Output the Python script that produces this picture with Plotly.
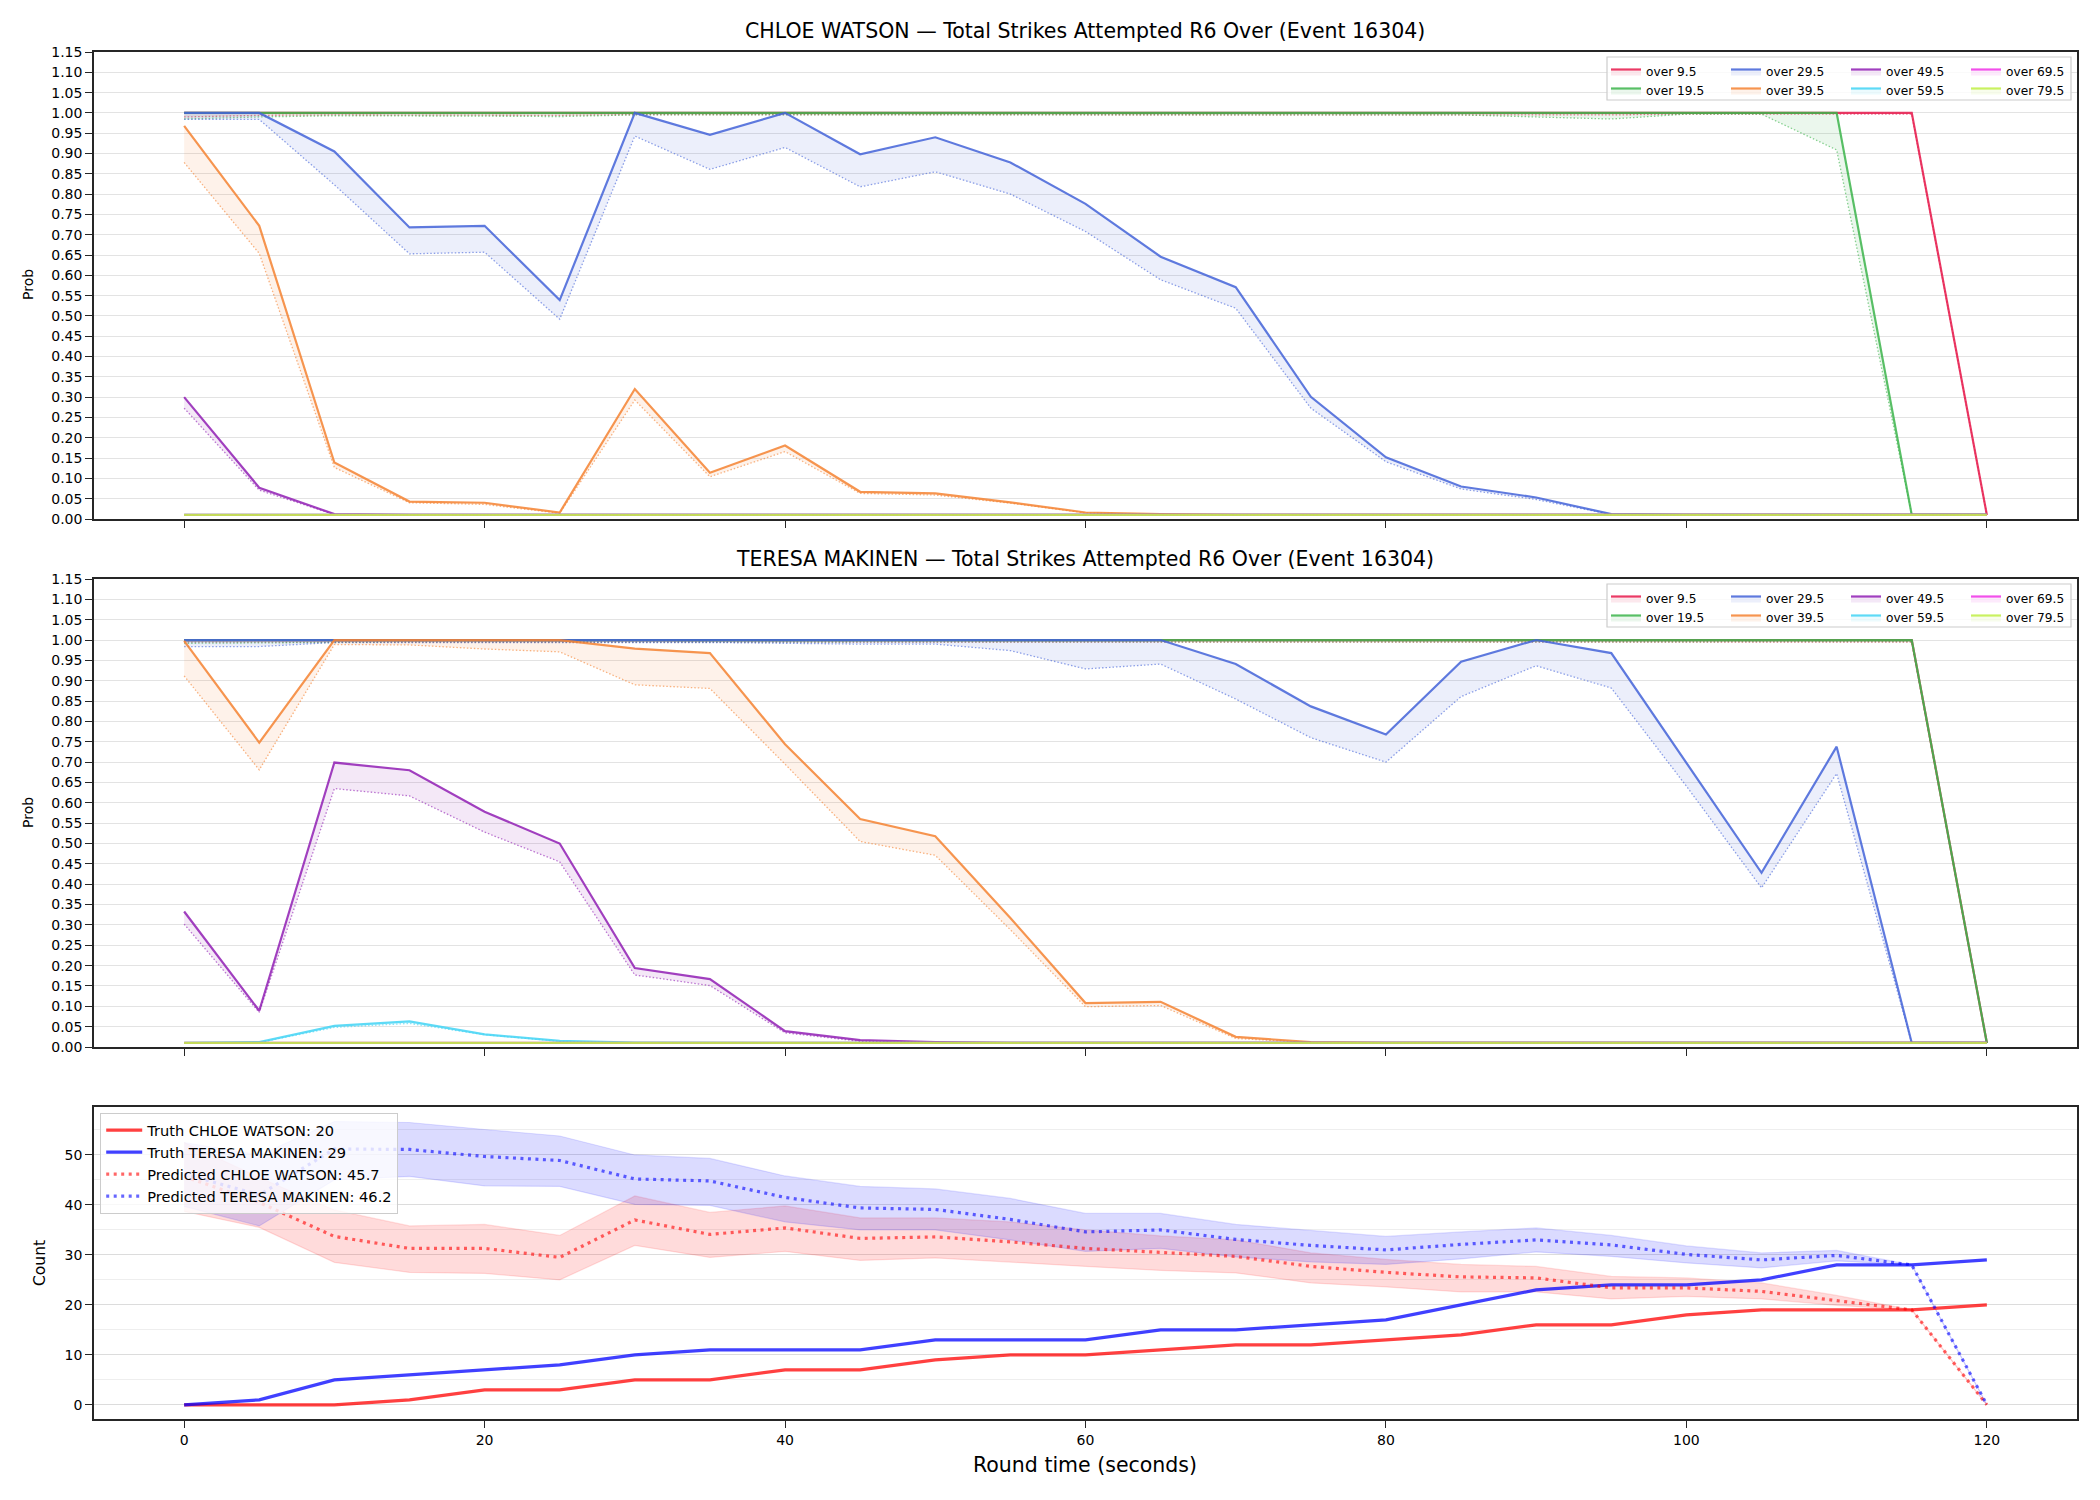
import plotly.graph_objects as go

# ---------------- data ----------------
T = [0, 5, 10, 15, 20, 25, 30, 35, 40, 45, 50, 55, 60, 65, 70, 75, 80, 85, 90, 95, 100, 105, 110, 115, 120]

LINE_NAMES = ["over 9.5", "over 19.5", "over 29.5", "over 39.5",
              "over 49.5", "over 59.5", "over 69.5", "over 79.5"]
LINE_COLORS = ["#e6194b", "#3cb44b", "#4363d8", "#f58231",
               "#911eb4", "#42d4f4", "#f032e6", "#bfef45"]

F = 0.01
# CHLOE WATSON (market line = solid, model = dotted)
cw_o9 = [1.0] * 24 + [F]
cw_o9_pred = [0.99, 0.994, 0.995, 0.995, 0.995, 0.994, 0.996, 0.996, 0.996, 0.996, 0.996, 0.996, 0.996,
              0.996, 0.996, 0.996, 0.996, 0.996, 0.996, 0.995, 0.997, 0.997, 0.997, 0.997, F]
cw_o19 = [1.0] * 23 + [F, F]
cw_o19_pred = [0.985, 0.99, 0.993, 0.993, 0.992, 0.991, 0.995, 0.995, 0.995, 0.995, 0.995, 0.995, 0.995,
               0.995, 0.995, 0.995, 0.994, 0.995, 0.99, 0.985, 0.997, 0.997, 0.909, 0.011, F]
cw_o29 = [1.0, 1.0, 0.905, 0.718, 0.722, 0.539, 1.0, 0.946, 1.0, 0.898, 0.940, 0.878, 0.776,
          0.646, 0.571, 0.301, 0.152, 0.080, 0.053, 0.012, F, F, F, F, F]
cw_o29_pred = [0.984, 0.984, 0.823, 0.653, 0.657, 0.492, 0.943, 0.861, 0.915, 0.818, 0.855, 0.80, 0.708,
               0.589, 0.519, 0.273, 0.141, 0.074, 0.048, 0.011, F, F, F, F, F]
cw_o39 = [0.968, 0.722, 0.139, 0.043, 0.040, 0.016, 0.320, 0.114, 0.181, 0.067, 0.063, 0.041, 0.016,
          0.012, F, F, F, F, F, F, F, F, F, F, F]
cw_o39_pred = [0.878, 0.654, 0.127, 0.040, 0.036, 0.014, 0.293, 0.104, 0.166, 0.063, 0.059, 0.039, 0.015,
               0.011, F, F, F, F, F, F, F, F, F, F, F]
cw_o49 = [0.30, 0.077, 0.012] + [F] * 22
cw_o49_pred = [0.273, 0.071, 0.011] + [F] * 22
cw_o59 = [F] * 25
cw_o59_pred = [F] * 25
cw_o69 = [F] * 25
cw_o69_pred = [F] * 25
cw_o79 = [F] * 25
cw_o79_pred = [F] * 25

# TERESA MAKINEN
tm_o9 = [1.0] * 24 + [F]
tm_o9_pred = [0.995] * 24 + [F]
tm_o19 = [1.0] * 24 + [F]
tm_o19_pred = [0.992, 0.993, 0.995, 0.995, 0.995, 0.995, 0.996, 0.996, 0.996, 0.996, 0.996, 0.996, 0.996,
               0.996, 0.996, 0.996, 0.996, 0.996, 0.996, 0.996, 0.996, 0.996, 0.996, 0.996, F]
tm_o29 = [1.0] * 14 + [0.941, 0.837, 0.768, 0.947, 1.0, 0.968, 0.698, 0.428, 0.738, F, F]
tm_o29_pred = [0.984, 0.984, 0.994, 0.994, 0.994, 0.994, 0.994, 0.994, 0.992, 0.99, 0.99, 0.974, 0.929,
               0.941, 0.855, 0.760, 0.700, 0.861, 0.937, 0.882, 0.641, 0.391, 0.672, F, F]
tm_o39 = [0.998, 0.748, 1.0, 1.0, 1.0, 1.0, 0.979, 0.968, 0.744, 0.56, 0.518, 0.317, 0.108,
          0.111, 0.025, 0.012] + [F] * 9
tm_o39_pred = [0.912, 0.681, 0.989, 0.988, 0.978, 0.971, 0.890, 0.881, 0.695, 0.505, 0.471, 0.288, 0.099,
               0.102, 0.021, 0.011] + [F] * 9
tm_o49 = [0.333, 0.089, 0.699, 0.680, 0.578, 0.500, 0.194, 0.167, 0.039, 0.017, 0.012] + [F] * 14
tm_o49_pred = [0.302, 0.085, 0.635, 0.617, 0.528, 0.455, 0.177, 0.151, 0.035, 0.014, 0.011] + [F] * 14
tm_o59 = [F, 0.012, 0.052, 0.063, 0.031, 0.015, 0.011] + [F] * 18
tm_o59_pred = [F, 0.011, 0.048, 0.058, 0.030, 0.014, F] + [F] * 18
tm_o69 = [F] * 25
tm_o69_pred = [F] * 25
tm_o79 = [F] * 25
tm_o79_pred = [F] * 25

# Counts panel
truth_cw = [0, 0, 0, 1, 3, 3, 5, 5, 7, 7, 9, 10, 10, 11, 12, 12, 13, 14, 16, 16, 18, 19, 19, 19, 20]
truth_tm = [0, 1, 5, 6, 7, 8, 10, 11, 11, 11, 13, 13, 13, 15, 15, 16, 17, 20, 23, 24, 24, 25, 28, 28, 29]
pred_cw = [45.7, 40.5, 33.7, 31.3, 31.3, 29.5, 37.0, 34.1, 35.4, 33.3, 33.6, 32.6, 31.3,
           30.5, 29.7, 27.7, 26.5, 25.6, 25.4, 23.4, 23.4, 22.7, 20.9, 19.0, 0.0]
cw_hi = [52.5, 45.5, 39.0, 35.8, 36.1, 33.9, 41.8, 38.5, 39.8, 37.4, 37.4, 36.6, 35.0,
         33.8, 33.0, 30.4, 29.1, 28.1, 27.7, 25.7, 25.4, 24.4, 21.9, 19.0, 0.0]
cw_lo = [38.7, 35.5, 28.5, 26.5, 26.3, 25.0, 31.9, 29.5, 30.7, 28.9, 29.4, 28.5, 27.7,
         26.9, 26.4, 24.4, 23.6, 22.6, 22.6, 21.2, 21.7, 21.2, 19.9, 19.0, 0.0]
pred_tm = [46.2, 42.0, 51.2, 51.1, 49.7, 48.9, 45.2, 44.8, 41.5, 39.4, 39.1, 37.1, 34.6,
           35.0, 33.1, 31.9, 31.0, 32.1, 33.0, 32.0, 30.1, 29.0, 29.9, 28.0, 0.0]
tm_hi = [52.5, 50.0, 56.7, 56.5, 55.1, 53.8, 50.0, 49.3, 45.8, 43.7, 43.2, 41.3, 38.3,
         38.3, 36.1, 34.9, 33.7, 34.6, 35.4, 33.9, 31.8, 30.4, 30.9, 28.0, 0.0]
tm_lo = [39.7, 35.8, 45.0, 45.7, 43.8, 43.7, 40.1, 39.9, 36.6, 35.0, 35.0, 33.0, 30.7,
         31.3, 29.6, 28.6, 28.1, 29.2, 30.6, 29.7, 28.4, 27.4, 28.8, 28.0, 0.0]

PLAYER_A = "CHLOE WATSON"
PLAYER_B = "TERESA MAKINEN"
EVENT = "16304"
X_TICKS = [0, 20, 40, 60, 80, 100, 120]
PROB_TICKS = [round(i * 0.05, 2) for i in range(24)]

# ---------------- figure ----------------
W, H = 2100, 1500
FONT = "DejaVu Sans"
AX = "#262626"

def rgba(hexc, a):
    h = hexc.lstrip("#")
    r, g, b = int(h[0:2], 16), int(h[2:4], 16), int(h[4:6], 16)
    return f"rgba({r},{g},{b},{a})"

fig = go.Figure()

panel_sets = [
    ("x", "y", [cw_o9, cw_o19, cw_o29, cw_o39, cw_o49, cw_o59, cw_o69, cw_o79],
     [cw_o9_pred, cw_o19_pred, cw_o29_pred, cw_o39_pred, cw_o49_pred, cw_o59_pred, cw_o69_pred, cw_o79_pred], 0),
    ("x2", "y2", [tm_o9, tm_o19, tm_o29, tm_o39, tm_o49, tm_o59, tm_o69, tm_o79],
     [tm_o9_pred, tm_o19_pred, tm_o29_pred, tm_o39_pred, tm_o49_pred, tm_o59_pred, tm_o69_pred, tm_o79_pred], 4),
]

for xa, ya, solids, preds, lbase in panel_sets:
    for i, name in enumerate(LINE_NAMES):
        col = LINE_COLORS[i]
        leg = "legend" if (lbase + i // 2) == 0 else f"legend{lbase + i // 2 + 1}"
        fig.add_trace(go.Scatter(x=T, y=preds[i], mode="lines", xaxis=xa, yaxis=ya,
                                 line=dict(color=rgba(col, 0.6), width=1.3, dash="1.5px,2px"),
                                 showlegend=False, hoverinfo="skip"))
        fig.add_trace(go.Scatter(x=T, y=solids[i], mode="lines", xaxis=xa, yaxis=ya, name=name,
                                 line=dict(color=rgba(col, 0.85), width=2.2),
                                 fill="tonexty", fillcolor=rgba(col, 0.1),
                                 legend=leg, showlegend=True))

# bottom panel bands
for lo, hi, col in [(cw_lo, cw_hi, "#ff0000"), (tm_lo, tm_hi, "#0000ff")]:
    fig.add_trace(go.Scatter(x=T, y=lo, mode="lines", xaxis="x3", yaxis="y3",
                             line=dict(color=rgba(col, 0.12), width=1.2), showlegend=False, hoverinfo="skip"))
    fig.add_trace(go.Scatter(x=T, y=hi, mode="lines", xaxis="x3", yaxis="y3",
                             line=dict(color=rgba(col, 0.12), width=1.2), fill="tonexty",
                             fillcolor=rgba(col, 0.14), showlegend=False, hoverinfo="skip"))

fig.add_trace(go.Scatter(x=T, y=truth_cw, mode="lines", xaxis="x3", yaxis="y3",
                         name=f"Truth {PLAYER_A}: {truth_cw[-1]}",
                         line=dict(color="rgba(255,0,0,0.75)", width=3.2), legend="legend9"))
fig.add_trace(go.Scatter(x=T, y=truth_tm, mode="lines", xaxis="x3", yaxis="y3",
                         name=f"Truth {PLAYER_B}: {truth_tm[-1]}",
                         line=dict(color="rgba(0,0,255,0.75)", width=3.2), legend="legend9"))
fig.add_trace(go.Scatter(x=T, y=pred_cw, mode="lines", xaxis="x3", yaxis="y3",
                         name=f"Predicted {PLAYER_A}: {pred_cw[0]}",
                         line=dict(color="rgba(255,0,0,0.6)", width=3.2, dash="3px,4.5px"), legend="legend9"))
fig.add_trace(go.Scatter(x=T, y=pred_tm, mode="lines", xaxis="x3", yaxis="y3",
                         name=f"Predicted {PLAYER_B}: {pred_tm[0]}",
                         line=dict(color="rgba(0,0,255,0.6)", width=3.2, dash="3px,4.5px"), legend="legend9"))

# ---------------- layout ----------------
XD = [94 / W, 2077 / W]
def ydom(top, bot):
    return [1 - bot / H, 1 - top / H]

P1, P2, P3 = (52, 519), (579, 1047), (1107, 1419)

common_x = dict(range=[-6, 126], showgrid=False, zeroline=False, showline=True, mirror=True,
                linecolor=AX, linewidth=1.6, ticks="outside", ticklen=7, tickwidth=1.4, tickcolor=AX,
                tickmode="array", tickvals=X_TICKS, tickfont=dict(family=FONT, size=14, color="#000"),
                automargin=False, domain=XD)
prob_y = dict(range=[0, 1.1500001], tickmode="array", tickvals=PROB_TICKS,
              ticktext=[f"{v:.2f}" for v in PROB_TICKS], showgrid=True, gridcolor="#e3e3e3", gridwidth=1,
              zeroline=False, showline=True, mirror=True, linecolor=AX, linewidth=1.6,
              ticks="outside", ticklen=7, tickwidth=1.4, tickcolor=AX,
              tickfont=dict(family=FONT, size=14, color="#000"), automargin=False)

fig.update_layout(
    width=W, height=H, margin=dict(l=0, r=0, t=0, b=0),
    paper_bgcolor="white", plot_bgcolor="white",
    font=dict(family=FONT, color="#000"),
    xaxis=dict(common_x, anchor="y", showticklabels=False, matches="x3"),
    xaxis2=dict(common_x, anchor="y2", showticklabels=False, matches="x3"),
    xaxis3=dict(common_x, anchor="y3", showticklabels=True),
    yaxis=dict(prob_y, domain=ydom(*P1), anchor="x"),
    yaxis2=dict(prob_y, domain=ydom(*P2), anchor="x2"),
    yaxis3=dict(range=[-2.84, 59.6], tickmode="array", tickvals=[0, 10, 20, 30, 40, 50],
                showgrid=True, gridcolor="#dcdcdc", gridwidth=1,
                minor=dict(tickvals=[5, 15, 25, 35, 45, 55], showgrid=True, gridcolor="#eeeeee", gridwidth=1, ticks=""),
                zeroline=False, showline=True, mirror=True, linecolor=AX, linewidth=1.6,
                ticks="outside", ticklen=7, tickwidth=1.4, tickcolor=AX,
                tickfont=dict(family=FONT, size=14, color="#000"), automargin=False,
                domain=ydom(*P3), anchor="x3"),
    showlegend=True,
)

# column legends for probability panels (matplotlib ncol=4 style)
col_x = [1606, 1726, 1846, 1966]
legend_defs = {}
for p, (ptop, _) in enumerate([P1, P2]):
    for c in range(4):
        idx = p * 4 + c
        key = "legend" if idx == 0 else f"legend{idx + 1}"
        legend_defs[key] = dict(x=col_x[c] / W, xanchor="left", y=1 - (ptop + 5) / H, yanchor="top",
                                bgcolor="rgba(0,0,0,0)", borderwidth=0, orientation="v",
                                traceorder="normal",
                                font=dict(family=FONT, size=12.2, color="#000"),
                                tracegroupgap=0, itemwidth=30)
    # legend frame
    fig.add_shape(type="rect", xref="paper", yref="paper",
                  x0=1607 / W, x1=2071 / W, y0=1 - (ptop + 48) / H, y1=1 - (ptop + 5) / H,
                  line=dict(color="#cccccc", width=1.2), fillcolor="rgba(255,255,255,0.8)", layer="above")
legend_defs["legend9"] = dict(x=100 / W, xanchor="left", y=1 - 1113 / H, yanchor="top",
                              bgcolor="rgba(255,255,255,0.8)", bordercolor="#cccccc", borderwidth=1.2,
                              traceorder="normal",
                              font=dict(family=FONT, size=14.6, color="#000"), tracegroupgap=0, itemwidth=36)
fig.update_layout(**legend_defs)

ann = [
    dict(text=f"{PLAYER_A} — Total Strikes Attempted R6 Over (Event {EVENT})", x=1085 / W, y=1 - 31 / H,
         font=dict(size=20.5)),
    dict(text=f"{PLAYER_B} — Total Strikes Attempted R6 Over (Event {EVENT})", x=1085 / W, y=1 - 559 / H,
         font=dict(size=20.5)),
    dict(text="Prob", x=28 / W, y=1 - 285 / H, textangle=-90, font=dict(size=14)),
    dict(text="Prob", x=28 / W, y=1 - 813 / H, textangle=-90, font=dict(size=14)),
    dict(text="Count", x=40 / W, y=1 - 1263 / H, textangle=-90, font=dict(size=15.5)),
    dict(text="Round time (seconds)", x=1085 / W, y=1 - 1465 / H, font=dict(size=20.5)),
]
for a in ann:
    a.update(xref="paper", yref="paper", showarrow=False, xanchor="center", yanchor="middle")
    a["font"] = dict(a["font"], family=FONT, color="#000")
    fig.add_annotation(**a)

fig.write_html("out.html")
